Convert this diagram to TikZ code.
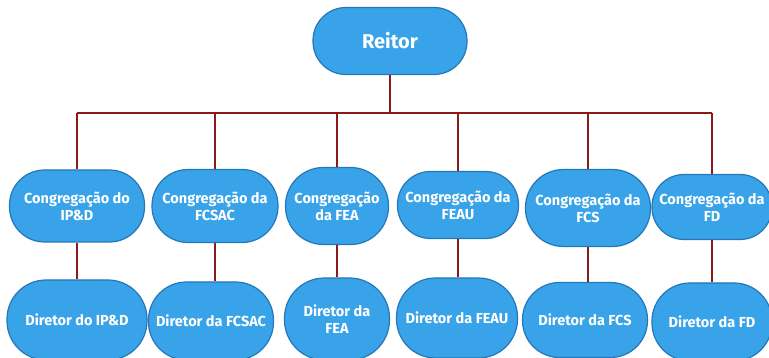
\documentclass[tikz,border=0pt]{standalone}
\usepackage{fontspec}
\setmainfont{Fira Sans}
\definecolor{boxfill}{RGB}{56,163,232}
\definecolor{boxline}{RGB}{38,118,186}
\definecolor{linkred}{RGB}{139,26,26}
\begin{document}
\begin{tikzpicture}[x=1pt,y=-1pt,
  pill/.style={draw=boxline,line width=1.2pt,fill=boxfill,rounded corners=34pt,
    text=white,font=\fontsize{14.5}{17}\selectfont\bfseries,align=center,inner sep=1pt},
  link/.style={draw=linkred,line width=1.4pt}]
\useasboundingbox (0,0) rectangle (769,358);
\node[pill,minimum width=154pt,minimum height=67pt,rounded corners=33pt,font=\fontsize{20}{24}\selectfont\bfseries] (R) at (390,41) {Reitor};
\node[pill,minimum width=135pt,minimum height=72pt,rounded corners=35pt] (C1) at (77,206) {Congregação do\\IP\&D};
\node[pill,minimum width=126pt,minimum height=73pt,rounded corners=36pt] (C2) at (215,206) {Congregação da\\FCSAC};
\node[pill,minimum width=103pt,minimum height=77pt,rounded corners=38pt] (C3) at (337,206) {Congregação\\da FEA};
\node[pill,minimum width=121pt,minimum height=67pt,rounded corners=33pt] (C4) at (458,205) {Congregação da\\FEAU};
\node[pill,minimum width=125pt,minimum height=77pt,rounded corners=38pt] (C5) at (588,208) {Congregação da\\FCS};
\node[pill,minimum width=120pt,minimum height=65pt,rounded corners=32pt] (C6) at (712,207) {Congregação da\\FD};
\node[pill,minimum width=140pt,minimum height=80pt,rounded corners=39pt] (D1) at (77,320) {Diretor do IP\&D};
\node[pill,minimum width=125pt,minimum height=78pt,rounded corners=38pt] (D2) at (211,321) {Diretor da FCSAC};
\node[pill,minimum width=105pt,minimum height=82pt,rounded corners=40pt] (D3) at (337,319) {Diretor da\\FEA};
\node[pill,minimum width=121pt,minimum height=80pt,rounded corners=39pt] (D4) at (457,318) {Diretor da FEAU};
\node[pill,minimum width=125pt,minimum height=75pt,rounded corners=37pt] (D5) at (585,320) {Diretor da FCS};
\node[pill,minimum width=120pt,minimum height=78pt,rounded corners=38pt] (D6) at (712,322) {Diretor da FD};
\coordinate (bus) at (393,113);
\coordinate (busL) at (C1.north |- bus);
\coordinate (busR) at (C6.north |- bus);
\draw[link] (R.south) -- (R.south |- bus);
\draw[link] (busL) -- (busR);
\foreach \i in {1,...,6}{
  \draw[link] (C\i.north |- bus) -- (C\i.north);
  \draw[link] (C\i.south) -- (C\i.south |- D\i.north);
}
\end{tikzpicture}
\end{document}
